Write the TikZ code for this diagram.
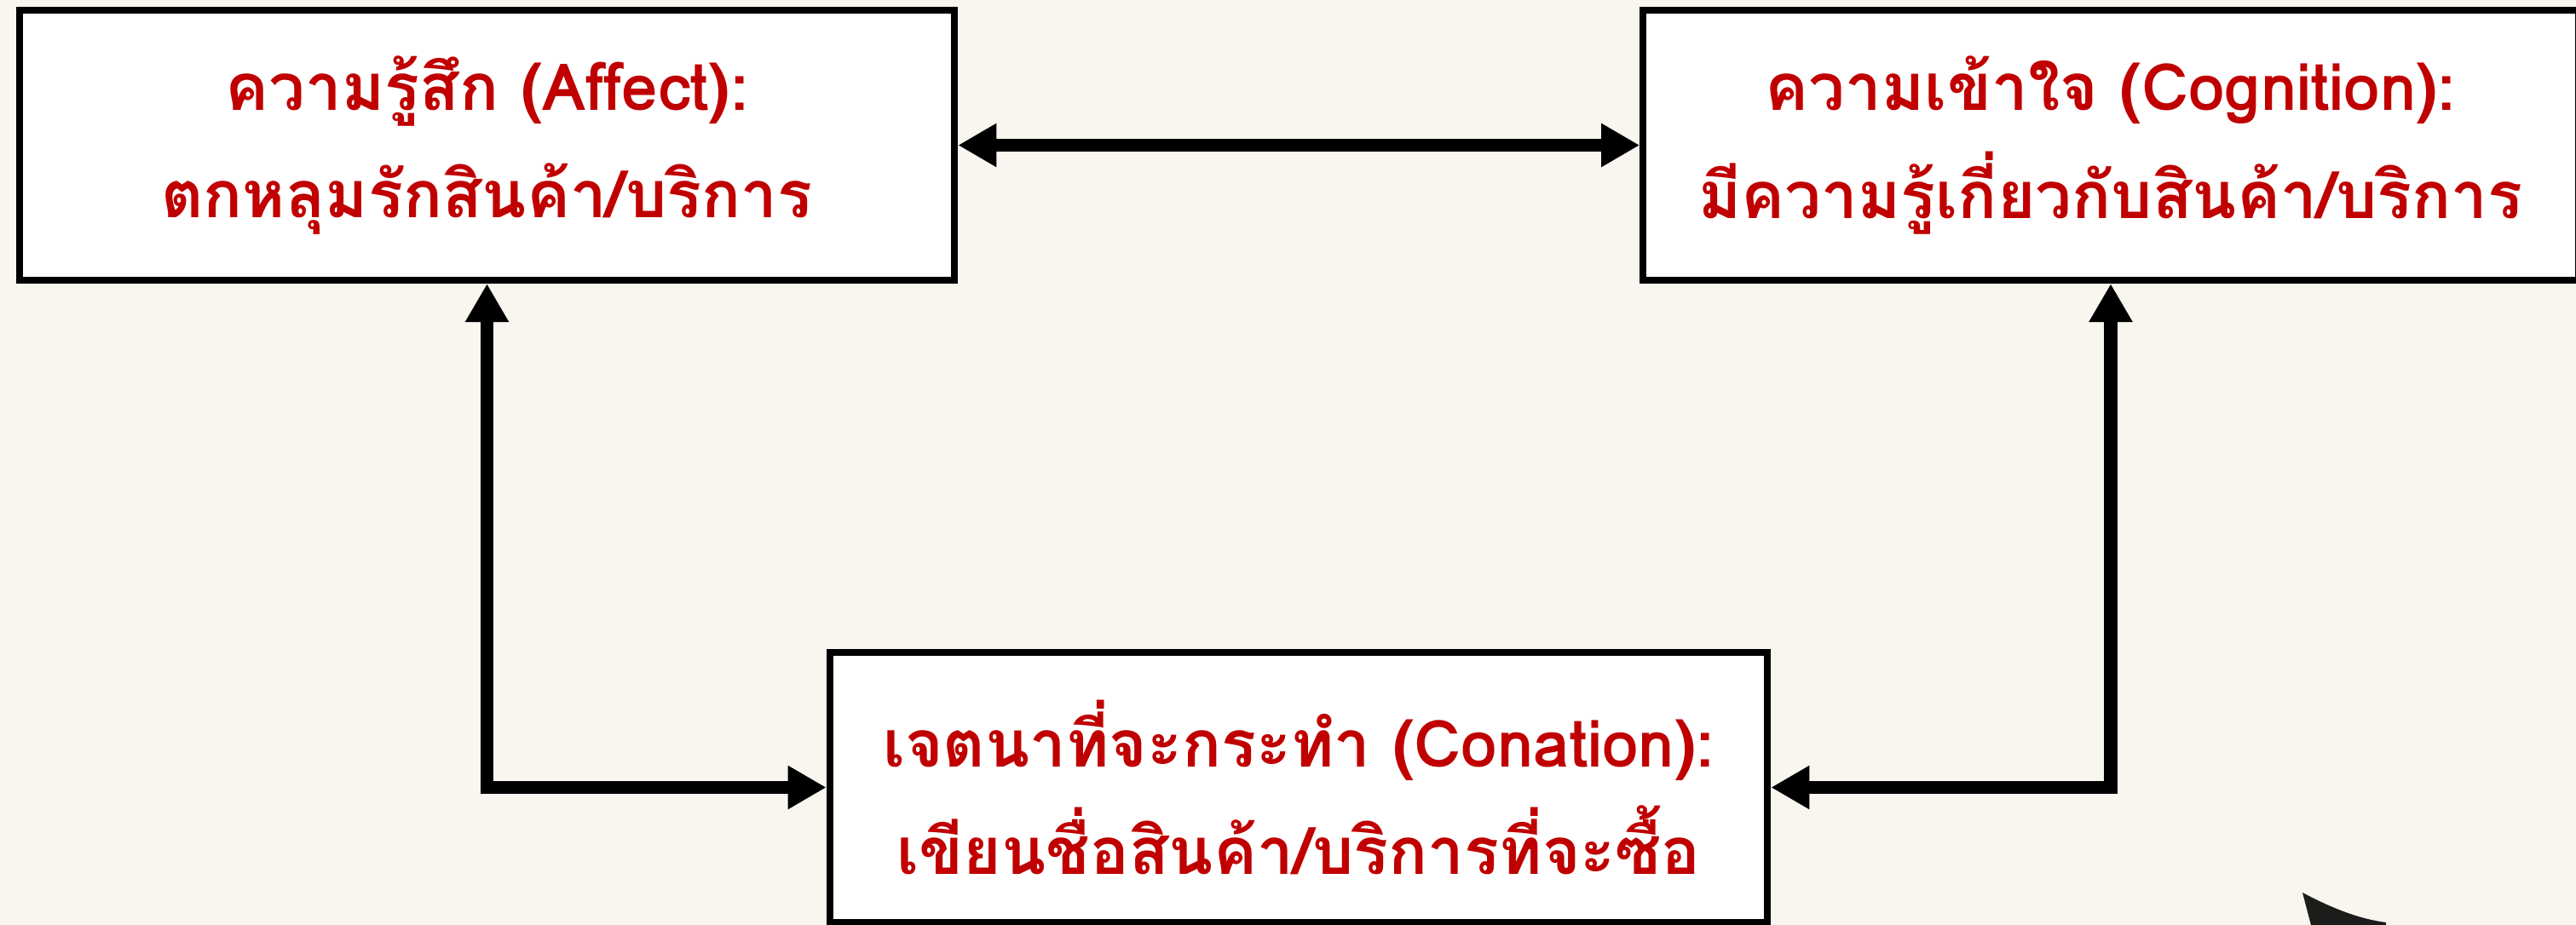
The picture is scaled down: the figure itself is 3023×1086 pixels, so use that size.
\documentclass[tikz,border=0pt]{standalone}
\usepackage{fontspec}
\newfontfamily\thaifont[Script=Thai]{Loma}
\usetikzlibrary{arrows.meta}
\definecolor{bg}{HTML}{F9F6EF}
\definecolor{txt}{HTML}{C00000}
\definecolor{blob}{HTML}{1C1C1A}
\tikzset{
  box/.style={draw=black, fill=white, line width=2.28pt, rectangle,
    minimum height=3.17cm, inner sep=0pt, align=center, text=txt,
    font=\thaifont\bfseries\fontsize{21.7pt}{36pt}\selectfont},
  conn/.style={line width=4.5pt,
    {Triangle[length=12.8pt,width=13.7pt]}-{Triangle[length=12.8pt,width=13.7pt]}}
}
\begin{document}
\begin{tikzpicture}[x=0.01cm,y=-0.01cm]
  \useasboundingbox (0,0) rectangle (3023,1086);
  \clip (0,0) rectangle (3023,1086);
  \fill[bg] (0,0) rectangle (3023,1086);
  \node[box, minimum width=10.97cm] (aff) at (571.5,170.5)
    {ความรู้สึก (Affect):\\ตกหลุมรักสินค้า/บริการ};
  \node[box, minimum width=10.97cm] (cog) at (2477,170.5)
    {ความเข้าใจ (Cognition):\\มีความรู้เกี่ยวกับสินค้า/บริการ};
  \node[box, minimum width=11.00cm] (con) at (1524,924.5)
    {เจตนาที่จะกระทำ (Conation):\\เขียนชื่อสินค้า/บริการที่จะซื้อ};
  \draw[conn] (aff.east) -- (cog.west);
  \draw[conn] (aff.south) |- (con.west);
  \draw[conn] (cog.south) |- (con.east);
  \fill[blob] (2702,1048) .. controls (2740,1068) and (2770,1079) .. (2800,1083)
    -- (2800,1090) -- (2713,1090) -- cycle;
\end{tikzpicture}
\end{document}
